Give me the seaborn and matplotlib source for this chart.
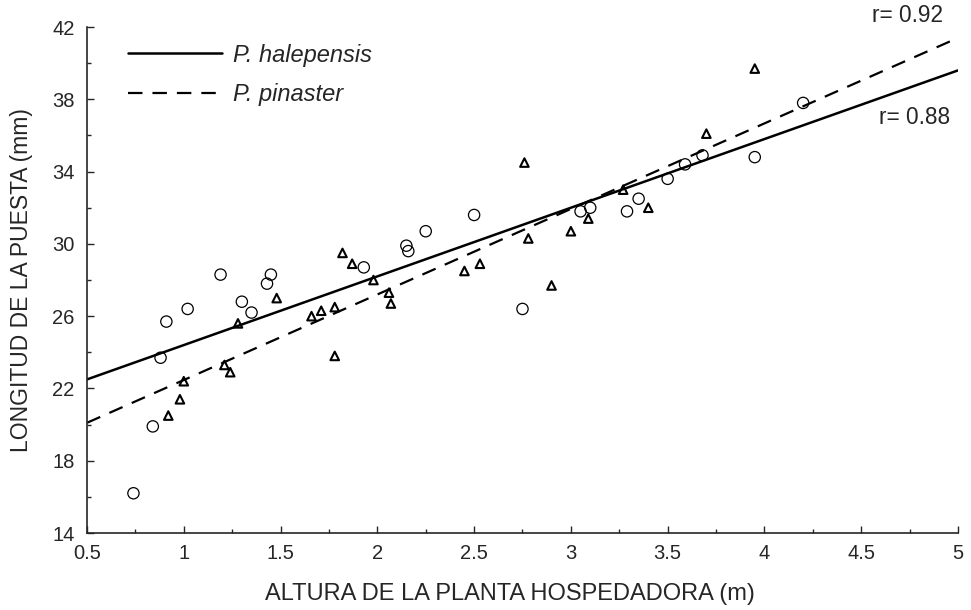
import numpy as np
import pandas as pd
import matplotlib
matplotlib.use("Agg")
import matplotlib.pyplot as plt
from matplotlib.ticker import MultipleLocator, FuncFormatter
import seaborn as sns

#%% Data
circ_x = [0.74, 0.84, 0.88, 0.91, 1.02, 1.19, 1.30, 1.35, 1.43, 1.45, 1.93,
          2.15, 2.16, 2.25, 2.50, 2.75, 3.05, 3.10, 3.29, 3.35, 3.50, 3.59,
          3.68, 3.95, 4.20]
circ_y = [16.2, 19.9, 23.7, 25.7, 26.4, 28.3, 26.8, 26.2, 27.8, 28.3, 28.7,
          29.9, 29.6, 30.7, 31.6, 26.4, 31.8, 32.0, 31.8, 32.5, 33.6, 34.4,
          34.9, 34.8, 37.8]

tri_x = [0.92, 0.98, 1.00, 1.21, 1.24, 1.28, 1.48, 1.66, 1.71, 1.78, 1.78,
         1.82, 1.87, 1.98, 2.06, 2.07, 2.45, 2.53, 2.76, 2.78, 2.90, 3.00,
         3.09, 3.27, 3.40, 3.70, 3.95]
tri_y = [20.5, 21.4, 22.4, 23.3, 22.9, 25.6, 27.0, 26.0, 26.3, 26.5, 23.8,
         29.5, 28.9, 28.0, 27.3, 26.7, 28.5, 28.9, 34.5, 30.3, 27.7, 30.7,
         31.4, 33.0, 32.0, 36.1, 39.7]

# fitted lines as drawn (ends at x = 0.5 and x = 5)
line_x = [0.5, 5.0]
hal_y = [22.5, 39.6]
pin_y = [20.1, 41.4]

xticks = [0.5, 1, 1.5, 2, 2.5, 3, 3.5, 4, 4.5, 5]
yticks = [14, 18, 22, 26, 30, 34, 38, 42]

#%% Plot
sns.set_style("ticks")
plt.rcParams["font.family"] = ["Liberation Sans", "DejaVu Sans"]

fig = plt.figure(figsize=(9.71, 6.10), dpi=100)
ax = fig.add_axes([0.0896, 0.1262, 0.8970, 0.8295])

lines = pd.DataFrame({"x": line_x + line_x,
                      "y": hal_y + pin_y,
                      "sp": ["P. halepensis"] * 2 + ["P. pinaster"] * 2})
sns.lineplot(data=lines[lines.sp == "P. halepensis"], x="x", y="y", ax=ax,
             color="black", lw=1.8, label="P. halepensis")
sns.lineplot(data=lines[lines.sp == "P. pinaster"], x="x", y="y", ax=ax,
             color="black", lw=1.6, linestyle=(0, (6.5, 4.5)), label="P. pinaster")

sns.scatterplot(x=circ_x, y=circ_y, ax=ax, marker="o", s=66, color="black",
                facecolor="none", edgecolor="black", linewidth=0.9, zorder=3)
sns.scatterplot(x=tri_x, y=tri_y, ax=ax, marker="^", s=38, color="black",
                facecolor="none", edgecolor="black", linewidth=1.5, zorder=3)

ax.set_xlim(0.5, 5)
ax.set_ylim(14, 42)
ax.set_xticks(xticks)
ax.set_yticks(yticks)
ax.xaxis.set_minor_locator(MultipleLocator(0.25))
ax.yaxis.set_minor_locator(MultipleLocator(2))
ax.xaxis.set_major_formatter(FuncFormatter(lambda v, p: "%g" % v))
ax.tick_params(which="both", direction="in", labelsize=14.5, width=1)
ax.tick_params(which="major", length=5)
ax.tick_params(which="minor", length=3)
ax.tick_params(axis="x", pad=8)
ax.tick_params(axis="y", pad=9)
sns.despine(ax=ax)
for s in ["left", "bottom"]:
    ax.spines[s].set_linewidth(1.2)

ax.set_xlabel("ALTURA DE LA PLANTA HOSPEDADORA (m)", fontsize=17, labelpad=12)
ax.xaxis.set_label_coords(0.486, -0.098)
ax.set_ylabel("LONGITUD DE LA PUESTA (mm)", fontsize=16.5, labelpad=14)

leg = ax.legend(loc="upper left", bbox_to_anchor=(0.047, 0.967), frameon=False,
                handlelength=4.0, handletextpad=0.47, labelspacing=0.7,
                borderpad=0, borderaxespad=0,
                prop={"style": "italic", "size": 17})

ax.text(0.983, 1.022, "r= 0.92", transform=ax.transAxes, ha="right", va="center",
        fontsize=16.3)
ax.text(0.991, 0.822, "r= 0.88", transform=ax.transAxes, ha="right", va="center",
        fontsize=16.3)

plt.savefig("out.png", dpi=100)
